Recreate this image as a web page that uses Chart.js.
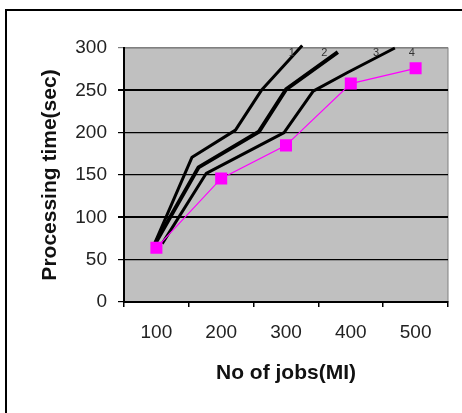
<!DOCTYPE html>
<html>
<head>
<meta charset="utf-8">
<script src="https://cdn.jsdelivr.net/npm/chart.js@4"></script>
<style>
  html, body { margin: 0; padding: 0; background: #fff; }
  #wrap { width: 462px; height: 413px; }
</style>
</head>
<body>
<div id="wrap"><canvas id="grafico" width="462" height="413"></canvas></div>
<script>
// categorias del eje x
const jobLabels = ["100", "200", "300", "400", "500"];
// serie medida (cuadros rosados)
const measured = [64, 146, 185, 258, 276];
// curvas negras 1, 2 y 3 (x en unidades de jobs)
const curve1X = [95, 155, 222, 262, 325];
const curve1Y = [65, 171, 203, 250, 303];
const curve2X = [95, 165, 258, 300, 380];
const curve2Y = [65, 159, 201, 251, 295];
const curve3X = [109, 177, 297, 342, 395, 468];
const curve3Y = [69, 152, 200, 249, 271, 300];
// numeros de las curvas
const curveNames = ["1", "2", "3", "4"];
const nameX = [309, 359, 439, 494];
const nameY = [294, 294, 294, 294];

const toPoints = (xs, ys) => xs.map((x, i) => ({ x: x, y: ys[i] }));

const blackLine = (pts, w) => ({
  type: "line",
  data: pts,
  xAxisID: "xl",
  borderColor: "#000",
  borderWidth: w,
  borderJoinStyle: "round",
  pointRadius: 0,
  tension: 0,
  clip: false,
  order: 1,
});

// fondo gris del area y marco exterior
const fondo = {
  id: "fondo",
  beforeDraw(chart) {
    const { ctx, chartArea: a } = chart;
    ctx.save();
    ctx.fillStyle = "#c0c0c0";
    ctx.fillRect(a.left, a.top, a.right - a.left, a.bottom - a.top);
    ctx.strokeStyle = "#808080";
    ctx.lineWidth = 1;
    ctx.strokeRect(a.left, a.top, a.right - a.left, a.bottom - a.top);
    ctx.strokeStyle = "#000";
    ctx.lineWidth = 2;
    ctx.strokeRect(6, 10, 600, 600);
    ctx.restore();
  },
};

// etiquetas 1..4 sobre las curvas
const nombres = {
  id: "nombres",
  afterDatasetsDraw(chart) {
    const { ctx, scales } = chart;
    ctx.save();
    ctx.font = "11px 'Liberation Sans'";
    ctx.fillStyle = "#333";
    ctx.textAlign = "center";
    ctx.textBaseline = "middle";
    curveNames.forEach((n, i) => {
      ctx.fillText(n, scales.xl.getPixelForValue(nameX[i]), scales.y.getPixelForValue(nameY[i]));
    });
    ctx.restore();
  },
};

const config = {
  type: "line",
  data: {
    labels: jobLabels,
    datasets: [
      blackLine(toPoints(curve1X, curve1Y), 3),
      blackLine(toPoints(curve2X, curve2Y), 4),
      blackLine(toPoints(curve3X, curve3Y), 3),
      {
        label: "4",
        data: measured,
        xAxisID: "x",
        borderColor: "#ff00ff",
        backgroundColor: "#ff00ff",
        borderWidth: 1.2,
        pointStyle: "rect",
        pointRadius: 8.5,
        pointBorderWidth: 0,
        tension: 0,
        order: 0,
      },
    ],
  },
  options: {
    responsive: false,
    animation: false,
    layout: { padding: { left: 0, top: 48, right: 14, bottom: 0 } },
    plugins: { legend: { display: false }, tooltip: { enabled: false } },
    scales: {
      x: {
        type: "category",
        offset: true,
        grid: { offset: true, drawOnChartArea: false, color: "#000", tickLength: 5, lineWidth: 1.5 },
        border: { color: "#000", width: 2 },
        ticks: { color: "#222", padding: 14, font: { family: "'Liberation Sans'", size: 19 } },
        title: {
          display: true,
          text: "No of jobs(MI)",
          color: "#111",
          font: { family: "'Liberation Sans'", size: 21, weight: "bold" },
          padding: { top: 0, bottom: 27 },
        },
        afterFit: (s) => { s.height = 111; },
      },
      xl: { type: "linear", display: false, min: 50, max: 550 },
      y: {
        min: 0,
        max: 300,
        ticks: { stepSize: 50, color: "#222", padding: 11, font: { family: "'Liberation Sans'", size: 19 } },
        grid: {
          tickLength: 6,
          color: (c) => (c.tick && c.tick.value === 300 ? "#808080" : "#000"),
          lineWidth: (c) => (c.tick && (c.tick.value === 100 || c.tick.value === 250) ? 2 : 1.2),
        },
        border: { color: "#000", width: 2 },
        title: {
          display: true,
          text: "Processing time(sec)",
          color: "#111",
          font: { family: "'Liberation Sans'", size: 21, weight: "bold" },
          padding: { top: 38, bottom: 0 },
        },
        afterFit: (s) => { s.width = 124; },
      },
    },
  },
  plugins: [fondo, nombres],
};

const grafico = document.getElementById("grafico");
const chart = new Chart(grafico, config);
</script>
</body>
</html>
